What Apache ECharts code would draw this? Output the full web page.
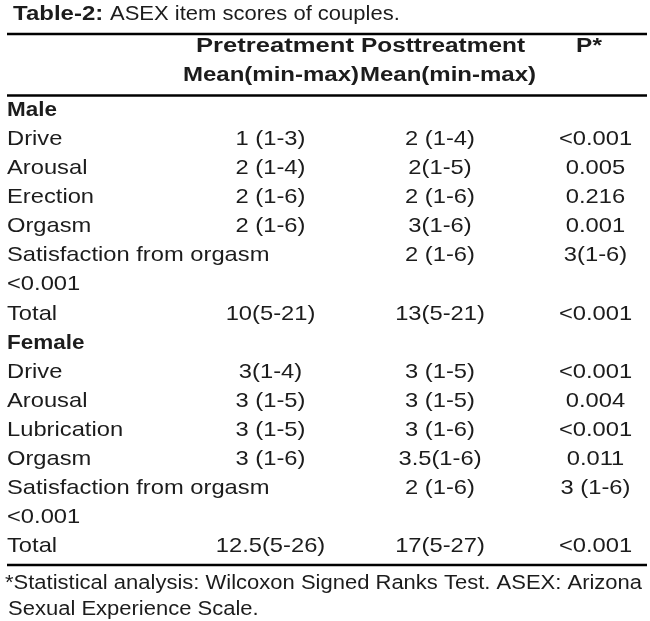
<!DOCTYPE html>
<html>
<head>
<meta charset="utf-8">
<title>Table-2: ASEX item scores of couples</title>
<script src="https://cdn.jsdelivr.net/npm/echarts@6.0.0/dist/echarts.min.js"></script>
<style>
    html, body { margin: 0; padding: 0; background: #fff; }
    #chart { width: 650px; height: 621px; }
</style>
</head>
<body>
<div id="chart"></div>
<script>
    // table values
    var columns = ['Item', 'Pretreatment', 'Posttreatment', 'P*'];
    var headTop = ['Pretreatment', 'Posttreatment', 'P*'];
    var headBottom = ['Mean(min-max)', 'Mean(min-max)'];

    var maleItems = ['Drive', 'Arousal', 'Erection', 'Orgasm', 'Satisfaction from orgasm', '<0.001', 'Total'];
    var malePre = ['1 (1-3)', '2 (1-4)', '2 (1-6)', '2 (1-6)', '', '', '10(5-21)'];
    var malePost = ['2 (1-4)', '2(1-5)', '2 (1-6)', '3(1-6)', '2 (1-6)', '', '13(5-21)'];
    var maleP = ['<0.001', '0.005', '0.216', '0.001', '3(1-6)', '', '<0.001'];

    var femaleItems = ['Drive', 'Arousal', 'Lubrication', 'Orgasm', 'Satisfaction from orgasm', '<0.001', 'Total'];
    var femalePre = ['3(1-4)', '3 (1-5)', '3 (1-5)', '3 (1-6)', '', '', '12.5(5-26)'];
    var femalePost = ['3 (1-5)', '3 (1-5)', '3 (1-6)', '3.5(1-6)', '2 (1-6)', '', '17(5-27)'];
    var femaleP = ['<0.001', '0.004', '<0.001', '0.011', '3 (1-6)', '', '<0.001'];

    var titleBold = 'Table-2:';
    var titleText = 'ASEX item scores of couples.';
    var footLines = ['*Statistical analysis: Wilcoxon Signed Ranks Test. ASEX: Arizona',
                     'Sexual Experience Scale.'];

    // layout
    var ink = '#1c1c1c';
    var fontFamily = '"Liberation Sans", Arial, sans-serif';
    var itemLeft = 7;
    var colNudge = [0, 0, 7, 0];
    var textScale = 1.13;

    // rows and cells
    var rowNames = [];
    var cells = [];
    function addGroup(name, items, pre, post, p) {
        cells.push({ col: 0, row: rowNames.length, text: name, bold: true });
        rowNames.push(name);
        items.forEach(function (item, i) {
            var r = rowNames.length;
            rowNames.push(item);
            [item, pre[i], post[i], p[i]].forEach(function (t, c) {
                if (t) cells.push({ col: c, row: r, text: t });
            });
        });
    }
    addGroup('Male', maleItems, malePre, malePost, maleP);
    addGroup('Female', femaleItems, femalePre, femalePost, femaleP);

    var chart = echarts.init(document.getElementById('chart'));

    function txt(x, y, s, size, bold, sx, align) {
        return {
            type: 'text', x: x, y: y, scaleX: sx,
            style: {
                text: s, fill: ink,
                font: (bold ? 'bold ' : '') + size + 'px ' + fontFamily,
                textAlign: align || 'left', textVerticalAlign: 'middle'
            }
        };
    }
    function rule(y) {
        return { type: 'line', shape: { x1: 7, y1: y, x2: 647, y2: y }, style: { stroke: '#000', lineWidth: 2.5 } };
    }

    var option = {
        animation: false,
        backgroundColor: '#fff',
        grid: { left: 108, right: 54.5, top: 110.5, bottom: 75 },
        xAxis: { type: 'category', data: columns, boundaryGap: false, show: false },
        yAxis: { type: 'category', data: rowNames.map(function (n, i) { return i; }), inverse: true, boundaryGap: false, show: false },
        graphic: [
            txt(13, 14, titleBold, 20, true, 1.2),
            txt(110, 14, titleText, 20, false, 1.1),
            rule(34),
            txt(275, 46, headTop[0], 20, true, 1.28, 'center'),
            txt(443, 46, headTop[1], 20, true, 1.22, 'center'),
            txt(589, 46, headTop[2], 20, true, 1.22, 'center'),
            txt(271, 75, headBottom[0], 20, true, 1.2, 'center'),
            txt(448, 75, headBottom[1], 20, true, 1.2, 'center'),
            rule(95.5),
            rule(565),
            txt(5, 583, footLines[0], 20, false, 1.1),
            txt(8, 609, footLines[1], 20, false, 1.1)
        ],
        series: [{
            type: 'custom',
            data: cells.map(function (c) { return [c.col, c.row]; }),
            renderItem: function (params, api) {
                var cell = cells[params.dataIndex];
                var pt = api.coord([api.value(0), api.value(1)]);
                var first = cell.col === 0;
                return {
                    type: 'text',
                    x: first ? itemLeft : pt[0] + colNudge[cell.col],
                    y: pt[1],
                    scaleX: cell.bold ? 1.07 : textScale,
                    style: {
                        text: cell.text,
                        fill: ink,
                        font: (cell.bold ? 'bold ' : '') + '21px ' + fontFamily,
                        textAlign: first ? 'left' : 'center',
                        textVerticalAlign: 'middle'
                    }
                };
            }
        }]
    };
    chart.setOption(option);
</script>
</body>
</html>
